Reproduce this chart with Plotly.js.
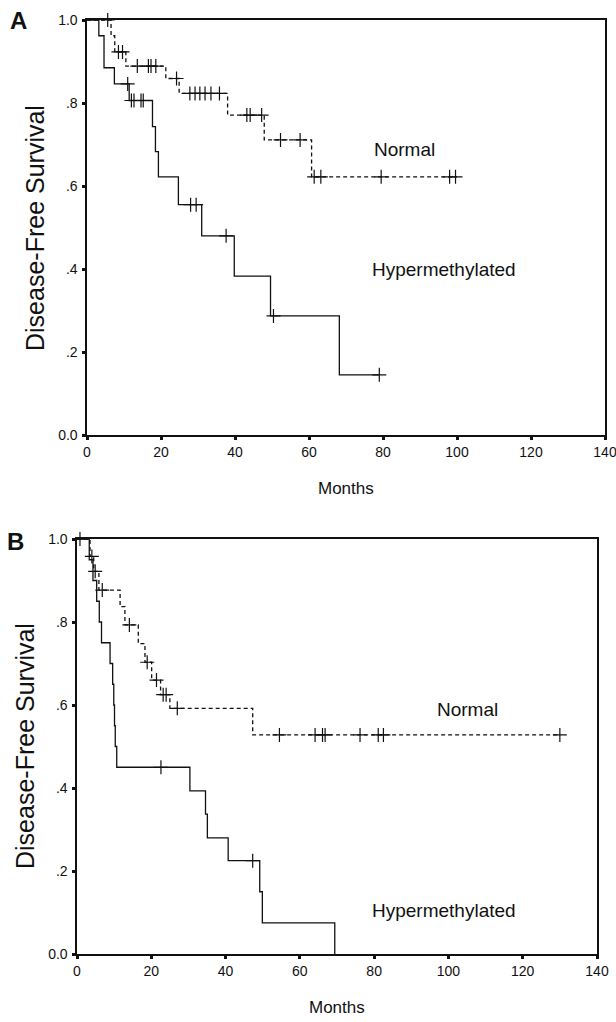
<!DOCTYPE html>
<html><head><meta charset="utf-8">
<script src="https://cdn.plot.ly/plotly-3.0.1.min.js"></script>
<style>html,body{margin:0;padding:0;background:#fff}</style>
</head><body><div id="chart" style="width:616px;height:1022px"></div>
<script>
// ---- Panel A ----
const aHyperTimes = [0, 3.2, 4.6, 7.4, 11.4, 17.7, 18.5, 19.3, 24.7, 31.0, 39.8, 49.6, 68.2, 79];
const aHyperSurv  = [1.0, 0.962, 0.885, 0.846, 0.806, 0.743, 0.683, 0.622, 0.555, 0.480, 0.383, 0.287, 0.145, 0.145];
const aHyperCens  = [11.0, 12.0, 12.7, 14.6, 15.2, 28.0, 29.5, 37.6, 50.4, 79];

const aNormTimes = [0, 6.5, 7.5, 10.5, 21.3, 24.9, 38.0, 47.9, 60.7, 100];
const aNormSurv  = [1.0, 0.962, 0.923, 0.889, 0.859, 0.823, 0.771, 0.711, 0.622, 0.622];
const aNormCens  = [5.6, 8.5, 9.6, 13.6, 16.6, 17.3, 18.6, 24.2, 27.8, 29.2, 30.5, 31.9, 33.5, 35.8, 43.2, 44.1, 47.2, 52.3, 57.6, 61.4, 63.2, 79.5, 98.0, 99.6];

// ---- Panel B ----
const bHyperTimes = [0, 3.3, 4.3, 5.3, 6.0, 6.6, 8.9, 9.6, 9.9, 10.1, 10.3, 10.7, 30.4, 34.6, 35.1, 40.7, 49.2, 49.9, 69.4];
const bHyperSurv  = [1.0, 0.95, 0.90, 0.85, 0.80, 0.75, 0.70, 0.65, 0.60, 0.55, 0.50, 0.45, 0.393, 0.337, 0.28, 0.225, 0.15, 0.075, 0];
const bHyperCens  = [22.6, 47.3];

const bNormTimes = [0, 3.5, 4.5, 5.9, 11.6, 12.9, 16.5, 18.3, 20.1, 22.5, 25.0, 47.3, 130];
const bNormSurv  = [1.0, 0.958, 0.922, 0.877, 0.837, 0.793, 0.748, 0.703, 0.66, 0.625, 0.592, 0.528, 0.528];
const bNormCens  = [0.8, 4.0, 4.9, 6.8, 14.1, 18.9, 21.4, 23.2, 24.0, 27.0, 54.5, 64.1, 66.1, 66.8, 76.2, 81.1, 82.5, 130];

const xTicks = [0, 20, 40, 60, 80, 100, 120, 140];
const yTicks = [0, 0.2, 0.4, 0.6, 0.8, 1.0];
const yTickText = ['0.0', '.2', '.4', '.6', '.8', '1.0'];

const FONT = 'Liberation Sans, Arial, Helvetica, sans-serif';

function levelAt(times, surv, t) {
  let s = surv[0];
  for (let i = 0; i < times.length; i++) if (times[i] <= t) s = surv[i];
  return s;
}
function curve(times, surv, dashed, xa, ya) {
  return {x: times, y: surv, xaxis: xa, yaxis: ya, mode: 'lines', type: 'scatter',
    line: {shape: 'hv', color: '#111', width: 1.3, dash: dashed ? '4px,3px' : 'solid'},
    hoverinfo: 'skip', showlegend: false, cliponaxis: false};
}
function cens(times, surv, ct, xa, ya) {
  return {x: ct, y: ct.map(t => levelAt(times, surv, t)), xaxis: xa, yaxis: ya,
    mode: 'markers', type: 'scatter', cliponaxis: false,
    marker: {symbol: 'cross-thin-open', size: 10, line: {width: 1.2, color: '#111'}, color: '#111'},
    hoverinfo: 'skip', showlegend: false};
}

const data = [
  curve(aNormTimes, aNormSurv, true, 'x', 'y'),
  cens(aNormTimes, aNormSurv, aNormCens, 'x', 'y'),
  curve(aHyperTimes, aHyperSurv, false, 'x', 'y'),
  cens(aHyperTimes, aHyperSurv, aHyperCens, 'x', 'y'),
  curve(bNormTimes, bNormSurv, true, 'x2', 'y2'),
  cens(bNormTimes, bNormSurv, bNormCens, 'x2', 'y2'),
  curve(bHyperTimes, bHyperSurv, false, 'x2', 'y2'),
  cens(bHyperTimes, bHyperSurv, bHyperCens, 'x2', 'y2'),
];

const W = 616, H = 1022;
function xax(d, anchor) {
  return {domain: d, anchor: anchor, range: [0, 140], tickvals: xTicks, showgrid: false, zeroline: false,
    showline: true, mirror: true, linecolor: '#111', linewidth: 1.6,
    ticks: 'outside', ticklen: 3, tickwidth: 3, tickcolor: '#111', ticklabelstandoff: 1,
    ticklabeloverflow: 'allow',
    tickfont: {family: FONT, size: 14, color: '#111'}, fixedrange: true};
}
function yax(d, anchor) {
  return {domain: d, anchor: anchor, range: [0, 1], tickvals: yTicks, ticktext: yTickText,
    showgrid: false, zeroline: false, showline: true, mirror: true, linecolor: '#111', linewidth: 1.6,
    ticks: 'outside', ticklen: 3, tickwidth: 3, tickcolor: '#111', ticklabelstandoff: 2,
    ticklabeloverflow: 'allow',
    tickfont: {family: FONT, size: 14, color: '#111'}, fixedrange: true};
}
function ann(text, x, y, size, opts) {
  return Object.assign({text: text, x: x, y: y, showarrow: false,
    font: {family: FONT, size: size, color: '#111'}}, opts || {});
}
const layout = {
  width: W, height: H, margin: {l: 0, r: 0, t: 0, b: 0},
  paper_bgcolor: '#fff', plot_bgcolor: '#fff', showlegend: false,
  xaxis: xax([87 / W, 605 / W], 'y'),
  yaxis: yax([1 - 435 / H, 1 - 20 / H], 'x'),
  xaxis2: xax([77 / W, 597 / W], 'y2'),
  yaxis2: yax([1 - 954 / H, 1 - 539 / H], 'x2'),
  annotations: [
    ann('Normal', 77, 0.687, 19, {xref: 'x', yref: 'y', xanchor: 'left', yanchor: 'middle'}),
    ann('Hypermethylated', 76.5, 0.40, 19, {xref: 'x', yref: 'y', xanchor: 'left', yanchor: 'middle'}),
    ann('Normal', 96.5, 0.59, 19, {xref: 'x2', yref: 'y2', xanchor: 'left', yanchor: 'middle'}),
    ann('Hypermethylated', 79, 0.105, 19, {xref: 'x2', yref: 'y2', xanchor: 'left', yanchor: 'middle'}),
    ann('<b>A</b>', 18 / W, 1 - 21 / H, 24, {xref: 'paper', yref: 'paper', xanchor: 'center', yanchor: 'middle'}),
    ann('<b>B</b>', 15 / W, 1 - 541 / H, 24, {xref: 'paper', yref: 'paper', xanchor: 'center', yanchor: 'middle'}),
    ann('Months', 346 / W, 1 - 488 / H, 17, {xref: 'paper', yref: 'paper', xanchor: 'center', yanchor: 'middle'}),
    ann('Months', 337 / W, 1 - 1007 / H, 17, {xref: 'paper', yref: 'paper', xanchor: 'center', yanchor: 'middle'}),
    ann('Disease-Free Survival', 35 / W, 1 - 228 / H, 25, {xref: 'paper', yref: 'paper', xanchor: 'center', yanchor: 'middle', textangle: -90}),
    ann('Disease-Free Survival', 25 / W, 1 - 746 / H, 25, {xref: 'paper', yref: 'paper', xanchor: 'center', yanchor: 'middle', textangle: -90}),
  ]
};
Plotly.newPlot('chart', data, layout, {staticPlot: true, displayModeBar: false});
</script></body></html>
